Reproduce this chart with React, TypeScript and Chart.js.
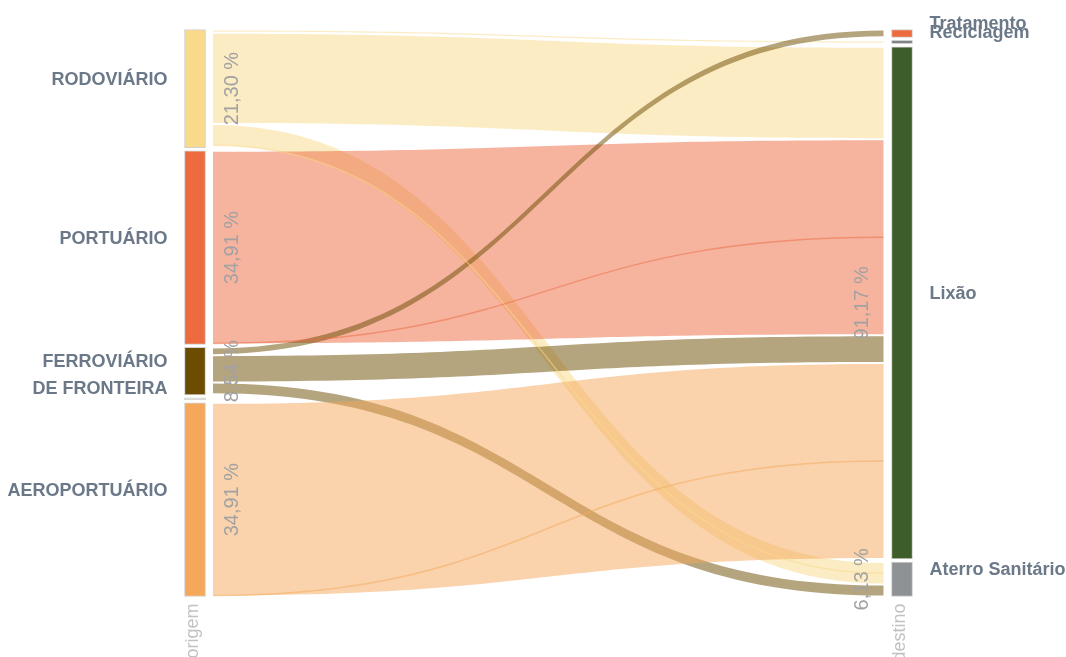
import React, { useEffect, useRef } from 'react';
import { Chart, registerables } from 'chart.js';

Chart.register(...registerables);

// ---- data ----
const origemCategories = ['RODOVIÁRIO', 'PORTUÁRIO', 'FERROVIÁRIO\nDE FRONTEIRA', '', 'AEROPORTUÁRIO'];
const origemValues = [21.3, 34.91, 8.54, 0.34, 34.91];
const origemColors = ['#f9d98a', '#ee6a3f', '#6b4c00', '#cfd3c6', '#f6a85a'];

const destinoCategories = ['Tratamento', 'Reciclagem', 'Lixão', 'Aterro Sanitário'];
const destinoValues = [1.4, 0.6, 91.17, 6.13];
const destinoColors = ['#ee6a3f', '#7f8386', '#3d5e2a', '#8e9294'];

// links (percent of total)
const linkSource = [0, 0, 0, 1, 2, 2, 2, 4];
const linkTarget = [1, 2, 3, 2, 0, 2, 3, 2];
const linkValue = [0.6, 16.45, 4.0, 34.91, 1.4, 4.9, 2.13, 34.91];

const axisNames = ['origem', 'destino'];

// ---- layout tables built from data ----
const NODE_GAP = 0.55;
const MIN_PCT_LABEL = 3;
const MIN_EDGE_LINE = 3;

const sum = (a: number[]) => a.reduce((s, v) => s + v, 0);
const leftSpan = sum(origemValues) + NODE_GAP * (origemValues.length - 1);
const leftK = 1;
const rightK = (leftSpan - NODE_GAP * (destinoValues.length - 1)) / sum(destinoValues);

function stack(values: number[], k: number, gap: number): [number, number][] {
  let y = 0;
  return values.map((t) => {
    const r: [number, number] = [y, y + t * k];
    y += t * k + gap;
    return r;
  });
}
const origemRanges = stack(origemValues, leftK, NODE_GAP);
const destinoRanges = stack(destinoValues, rightK, NODE_GAP);

// link offsets within nodes
const idx = linkValue.map((_, k) => k);
const linkSrc: [number, number][] = linkValue.map(() => [0, 0]);
const linkTgt: [number, number][] = linkValue.map(() => [0, 0]);
origemCategories.forEach((_, i) => {
  let c = origemRanges[i][0];
  idx
    .filter((k) => linkSource[k] === i)
    .sort((a, b) => linkTarget[a] - linkTarget[b])
    .forEach((k) => {
      linkSrc[k] = [c, c + linkValue[k] * leftK];
      c += linkValue[k] * leftK;
    });
});
destinoCategories.forEach((_, j) => {
  let c = destinoRanges[j][0];
  idx
    .filter((k) => linkTarget[k] === j)
    .sort((a, b) => linkSource[a] - linkSource[b])
    .forEach((k) => {
      linkTgt[k] = [c, c + linkValue[k] * rightK];
      c += linkValue[k] * rightK;
    });
});
// last link of each source node (drawn with an edge line)
const lastOfSource = origemCategories.map((_, i) => {
  const ks = idx.filter((k) => linkSource[k] === i).sort((a, b) => linkTarget[a] - linkTarget[b]);
  return ks[ks.length - 1];
});

function hexA(hex: string, a: number) {
  const n = parseInt(hex.slice(1), 16);
  return `rgba(${(n >> 16) & 255},${(n >> 8) & 255},${n & 255},${a})`;
}

const FONT = '"Liberation Sans", Arial, Helvetica, sans-serif';

const sankeyPlugin = {
  id: 'sankeyLinks',
  beforeDatasetsDraw(chart: any) {
    const ctx = chart.ctx;
    const ys = chart.scales.y;
    const mL = chart.getDatasetMeta(0).data[0];
    const mR = chart.getDatasetMeta(1).data[0];
    const x0 = mL.x + mL.width / 2 + 7.5;
    const x1 = mR.x - mR.width / 2 - 8;
    const xm = (x0 + x1) / 2;
    const shrink = 1;
    const fit = (a: number, b: number) => {
      if (b - a > 2 * shrink + 1) return [a + shrink, b - shrink];
      const m = (a + b) / 2;
      return [m - 0.5, m + 0.5];
    };
    ctx.save();
    linkValue.forEach((v, k) => {
      const [a0, a1] = fit(ys.getPixelForValue(linkSrc[k][0]), ys.getPixelForValue(linkSrc[k][1]));
      const [b0, b1] = fit(ys.getPixelForValue(linkTgt[k][0]), ys.getPixelForValue(linkTgt[k][1]));
      ctx.beginPath();
      ctx.moveTo(x0, a0);
      ctx.bezierCurveTo(xm, a0, xm, b0, x1, b0);
      ctx.lineTo(x1, b1);
      ctx.bezierCurveTo(xm, b1, xm, a1, x0, a1);
      ctx.closePath();
      ctx.fillStyle = hexA(origemColors[linkSource[k]], 0.5);
      ctx.fill();
    });
    // edge lines
    lastOfSource.forEach((k, i) => {
      if (k === undefined || linkValue[k] < MIN_EDGE_LINE) return;
      const a = ys.getPixelForValue(linkSrc[k][1]);
      const b = ys.getPixelForValue((linkTgt[k][0] + linkTgt[k][1]) / 2);
      ctx.beginPath();
      ctx.moveTo(x0, a - 1);
      ctx.bezierCurveTo(xm, a - 1, xm, b, x1, b);
      ctx.strokeStyle = hexA(origemColors[i], 0.5);
      ctx.lineWidth = 1.5;
      ctx.stroke();
    });
    ctx.restore();
  },
  afterDatasetsDraw(chart: any) {
    const ctx = chart.ctx;
    const ys = chart.scales.y;
    const metas = [chart.getDatasetMeta(0), chart.getDatasetMeta(1)];
    const cats = [origemCategories, destinoCategories];
    const ranges = [origemRanges, destinoRanges];
    const values = [origemValues, destinoValues];
    ctx.save();
    metas.forEach((meta, side) => {
      meta.data.forEach((el: any, i: number) => {
        const left = el.x - el.width / 2;
        const right = el.x + el.width / 2;
        const c = (ys.getPixelForValue(ranges[side][i][0]) + ys.getPixelForValue(ranges[side][i][1])) / 2;
        const name = cats[side][i];
        if (name) {
          ctx.font = `bold 18px ${FONT}`;
          ctx.fillStyle = '#6a7888';
          ctx.textBaseline = 'middle';
          ctx.textAlign = side === 0 ? 'right' : 'left';
          const tx = side === 0 ? left - 17 : right + 17;
          name.split('\n').forEach((line, li) => ctx.fillText(line, tx, c - 9 + li * 27));
        }
        const t = values[side][i];
        if (t >= MIN_PCT_LABEL) {
          const px = side === 0 ? right + 27 : left - 29;
          ctx.save();
          ctx.translate(px, c);
          ctx.rotate(-Math.PI / 2);
          ctx.font = `20px ${FONT}`;
          ctx.fillStyle = '#a2a2a2';
          ctx.textAlign = 'center';
          ctx.textBaseline = 'middle';
          ctx.fillText(t.toFixed(2).replace('.', ',') + ' %', 0, 0);
          ctx.restore();
        }
      });
      const el0 = meta.data[0];
      ctx.save();
      ctx.translate(el0.x - 2, chart.chartArea.bottom + 7);
      ctx.rotate(-Math.PI / 2);
      ctx.font = `18px ${FONT}`;
      ctx.fillStyle = '#c2c2c2';
      ctx.textAlign = 'right';
      ctx.textBaseline = 'middle';
      ctx.fillText(axisNames[side], 0, 0);
      ctx.restore();
    });
    ctx.restore();
  },
};

export default function App() {
  const ref = useRef<HTMLCanvasElement | null>(null);
  useEffect(() => {
    if (!ref.current) return;
    const chart = new Chart(ref.current, {
      type: 'bar',
      data: {
        datasets: [
          {
            label: axisNames[0],
            data: origemRanges.map((r) => ({ x: 0, y: r })) as any,
            backgroundColor: origemColors,
            borderColor: 'rgba(150,150,150,0.45)',
            borderWidth: 1,
            borderSkipped: false,
            barThickness: 21,
            grouped: false,
            clip: false as any,
          },
          {
            label: axisNames[1],
            data: destinoRanges.map((r) => ({ x: 1, y: r })) as any,
            backgroundColor: destinoColors,
            borderColor: 'rgba(150,150,150,0.45)',
            borderWidth: 1,
            borderSkipped: false,
            barThickness: 21,
            grouped: false,
            clip: false as any,
          },
        ],
      },
      options: {
        animation: false,
        responsive: true,
        maintainAspectRatio: false,
        events: [],
        layout: { padding: { top: 29.5, bottom: 60.5, left: 195, right: 164 } },
        scales: {
          x: { type: 'linear', min: 0, max: 1, display: false, offset: false },
          y: { type: 'linear', min: 0, max: leftSpan, reverse: true, display: false },
        },
        plugins: { legend: { display: false }, tooltip: { enabled: false } },
      } as any,
      plugins: [sankeyPlugin],
    });
    return () => chart.destroy();
  }, []);
  return (
    <div style={{ position: 'fixed', left: 0, top: 0, width: 1066, height: 657, background: '#fff' }}>
      <canvas ref={ref} />
    </div>
  );
}
